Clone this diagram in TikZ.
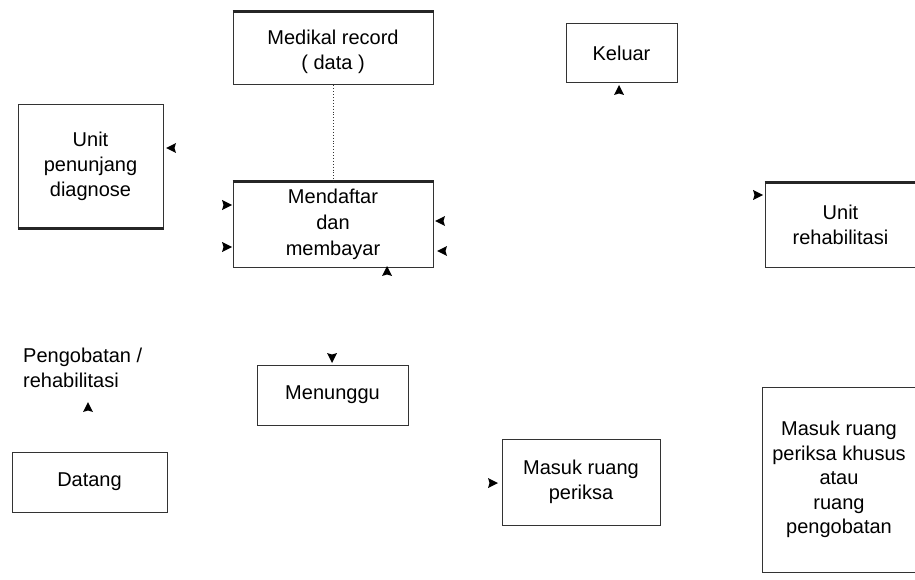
\documentclass[tikz,border=0pt]{standalone}
\usepackage{fontspec}
\setmainfont{Liberation Sans}
% filled arrow tip: tip point (#1,#2), direction angle #3 (0 = right, 90 = up)
\newcommand\drawtip[3]{\fill[tipfill, shift={(#1,#2)}, rotate=#3] (0,0) -- (-10,5) -- (-8.5,0) -- (-10,-5) -- cycle;}
\begin{document}
\begin{tikzpicture}[x=1pt,y=-1pt,
  box/.style={draw=black!80, line width=1pt, align=center, inner sep=0pt,
    font=\fontsize{20}{25}\selectfont},
  plain/.style={align=left, inner sep=0pt, font=\fontsize{20}{25}\selectfont},
  heavy/.style={draw=black!85, line width=2.4pt},
  link/.style={draw=black!80, line width=0.9pt, dotted},
  tipfill/.style={fill=black}]
\useasboundingbox (0,0) rectangle (915,580);
\fill[white] (0,0) rectangle (915,580);

% process boxes
\node[box, minimum width=200pt, minimum height=73pt]  (med)     at (333,48.5)  {\rule{0pt}{22pt}Medikal record\\( data )};
\node[box, minimum width=145pt, minimum height=123pt] (diag)    at (90.5,166.5) {Unit\\penunjang\\diagnose};
\node[box, minimum width=200pt, minimum height=85pt,
      font=\fontsize{20}{26}\selectfont]             (daftar)  at (333,224.5) {Mendaftar\\dan\\membayar};
\node[box, minimum width=111pt, minimum height=59pt]  (keluar)  at (621.5,53.5) {Keluar};
\node[box, minimum width=151pt, minimum height=84pt]  (rehab)   at (840.5,225) {Unit\\rehabilitasi};
\node[plain, anchor=west]                             (obat)    at (23,367.5)  {Pengobatan /\\rehabilitasi};
\node[box, minimum width=155pt, minimum height=60pt]  (datang)  at (89.5,482)  {Datang};
\node[box, minimum width=151pt, minimum height=60pt]  (tunggu)  at (332.5,395) {Menunggu};
\node[box, minimum width=158pt, minimum height=86pt]  (periksa) at (581,482)   {Masuk ruang\\periksa};
\node[box, minimum width=154pt, minimum height=185pt,
      font=\fontsize{20}{24.5}\selectfont]           (khusus)  at (839,479.5) {Masuk ruang\\periksa khusus\\atau\\ruang\\pengobatan};

% heavier edges
\draw[heavy] (med.north west) -- (med.north east);
\draw[heavy] (daftar.north west) -- (daftar.north east);
\draw[heavy] (rehab.north west) -- (rehab.north east);
\draw[heavy] (diag.south west) -- (diag.south east);

% record link
\draw[link] (med) -- (daftar);

% arrow tips
\drawtip{166}{148}{180}
\drawtip{232}{205}{0}
\drawtip{232}{247}{0}
\drawtip{435}{221}{180}
\drawtip{437}{251}{180}
\drawtip{387}{266}{90}
\drawtip{619}{85}{90}
\drawtip{763}{195}{0}
\drawtip{88}{402}{90}
\drawtip{332}{363}{270}
\drawtip{498}{483}{0}
\end{tikzpicture}
\end{document}
